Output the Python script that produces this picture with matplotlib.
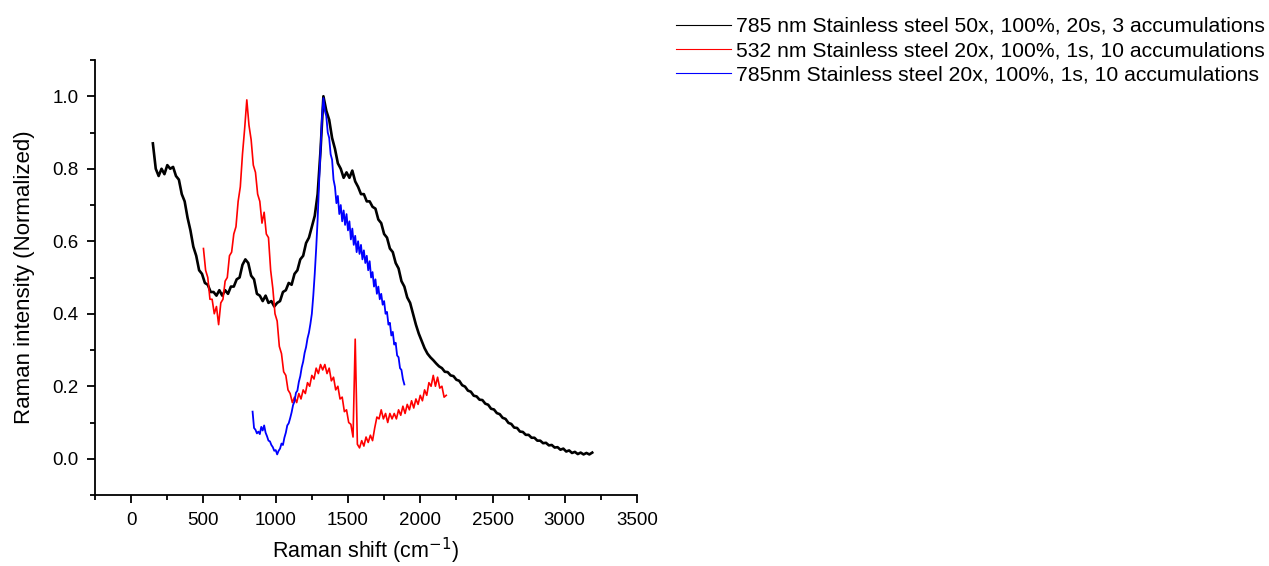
import numpy as np
import matplotlib
matplotlib.use("Agg")
import matplotlib.pyplot as plt
from matplotlib.lines import Line2D
from matplotlib.ticker import MultipleLocator

plt.rcParams['font.family'] = ['Liberation Sans', 'DejaVu Sans']

labels = ['785 nm Stainless steel 50x, 100%, 20s, 3 accumulations',
          '532 nm Stainless steel 20x, 100%, 1s, 10 accumulations',
          '785nm Stainless steel 20x, 100%, 1s, 10 accumulations']
colors = ['black', 'red', 'blue']

# 785 nm, 50x : 150 .. 3190 cm-1, every 20 cm-1
black_start, black_stop = 150, 3190
black_y = [0.87, 0.80, 0.78, 0.80, 0.785, 0.81, 0.80, 0.805, 0.78, 0.77,
           0.73, 0.71, 0.665, 0.63, 0.585, 0.56, 0.52, 0.51, 0.485, 0.48,
           0.46, 0.46, 0.45, 0.465, 0.45, 0.465, 0.455, 0.475, 0.475, 0.495,
           0.50, 0.535, 0.55, 0.54, 0.505, 0.495, 0.455, 0.45, 0.435, 0.45,
           0.43, 0.435, 0.42, 0.43, 0.435, 0.46, 0.465, 0.485, 0.48, 0.51,
           0.52, 0.55, 0.56, 0.595, 0.61, 0.64, 0.67, 0.73, 0.85, 1.0,
           0.96, 0.935, 0.885, 0.855, 0.815, 0.80, 0.775, 0.79, 0.775, 0.795,
           0.765, 0.75, 0.73, 0.73, 0.71, 0.71, 0.695, 0.69, 0.66, 0.65,
           0.62, 0.61, 0.58, 0.57, 0.54, 0.525, 0.49, 0.475, 0.445, 0.43,
           0.40, 0.37, 0.345, 0.325, 0.305, 0.29, 0.28, 0.272, 0.263, 0.255,
           0.25, 0.24, 0.239, 0.23, 0.228, 0.218, 0.215, 0.203, 0.199, 0.188,
           0.185, 0.174, 0.172, 0.163, 0.162, 0.152, 0.149, 0.138, 0.136, 0.126,
           0.123, 0.113, 0.11, 0.099, 0.096, 0.086, 0.085, 0.075, 0.074, 0.066,
           0.066, 0.058, 0.058, 0.05, 0.05, 0.043, 0.044, 0.037, 0.038, 0.031,
           0.032, 0.025, 0.028, 0.02, 0.023, 0.016, 0.019, 0.013, 0.017, 0.012,
           0.016, 0.012, 0.017]

# 532 nm, 20x : 500 .. 2180 cm-1, every 15 cm-1
red_start, red_stop = 500, 2180
red_y = [0.58, 0.52, 0.50, 0.44, 0.44, 0.40, 0.42, 0.37, 0.43, 0.44,
         0.49, 0.50, 0.56, 0.57, 0.62, 0.64, 0.71, 0.75, 0.84, 0.91,
         0.99, 0.92, 0.88, 0.81, 0.79, 0.73, 0.71, 0.65, 0.68, 0.62,
         0.61, 0.52, 0.47, 0.40, 0.38, 0.31, 0.29, 0.24, 0.23, 0.19,
         0.18, 0.155, 0.17, 0.155, 0.18, 0.165, 0.19, 0.18, 0.21, 0.20,
         0.23, 0.22, 0.25, 0.235, 0.26, 0.245, 0.26, 0.235, 0.25, 0.215,
         0.225, 0.19, 0.20, 0.165, 0.17, 0.13, 0.135, 0.10, 0.095, 0.06,
         0.33, 0.04, 0.03, 0.05, 0.035, 0.06, 0.045, 0.065, 0.05, 0.085,
         0.115, 0.11, 0.135, 0.11, 0.125, 0.10, 0.125, 0.11, 0.125, 0.11,
         0.135, 0.12, 0.145, 0.125, 0.15, 0.135, 0.16, 0.14, 0.165, 0.15,
         0.175, 0.16, 0.19, 0.175, 0.21, 0.2, 0.23, 0.2, 0.225, 0.195,
         0.2, 0.17, 0.175]

# 785 nm, 20x : 840 .. 1890 cm-1, every 10 cm-1
blue_start, blue_stop = 840, 1890
blue_y = [0.13, 0.085, 0.08, 0.07, 0.075, 0.068, 0.088, 0.078, 0.092, 0.072,
          0.062, 0.05, 0.048, 0.038, 0.032, 0.022, 0.024, 0.012, 0.022, 0.028,
          0.042, 0.038, 0.058, 0.072, 0.092, 0.098, 0.112, 0.128, 0.148, 0.158,
          0.182, 0.188, 0.212, 0.228, 0.252, 0.268, 0.292, 0.308, 0.332, 0.348,
          0.372, 0.40, 0.45, 0.51, 0.58, 0.66, 0.76, 0.85, 0.94, 0.995,
          0.96, 0.945, 0.90, 0.885, 0.84, 0.825, 0.77, 0.75, 0.705, 0.725,
          0.675, 0.70, 0.655, 0.685, 0.645, 0.675, 0.63, 0.655, 0.605, 0.635,
          0.59, 0.615, 0.57, 0.60, 0.565, 0.59, 0.55, 0.575, 0.54, 0.56,
          0.52, 0.545, 0.50, 0.515, 0.475, 0.495, 0.455, 0.475, 0.44, 0.455,
          0.425, 0.435, 0.40, 0.405, 0.37, 0.375, 0.34, 0.35, 0.315, 0.32,
          0.285, 0.28, 0.25, 0.245, 0.22, 0.205]

series = [(black_start, black_stop, black_y, 1.9),
          (red_start, red_stop, red_y, 1.2),
          (blue_start, blue_stop, blue_y, 1.3)]

fig = plt.figure(figsize=(12.69, 5.66), dpi=100)
ax = fig.add_axes([0.0749, 0.1254, 0.4271, 0.7686])

for (x0, x1, y, lw), c in zip(series, colors):
    x = np.linspace(x0, x1, len(y))
    ax.plot(x, y, color=c, lw=lw)

ax.set_xlim(-250, 3500)
ax.set_ylim(-0.1, 1.1)
ax.xaxis.set_major_locator(MultipleLocator(500))
ax.xaxis.set_minor_locator(MultipleLocator(250))
ax.yaxis.set_major_locator(MultipleLocator(0.2))
ax.yaxis.set_minor_locator(MultipleLocator(0.1))
ax.yaxis.set_major_formatter(plt.FormatStrFormatter('%.1f'))

for s in ['top', 'right']:
    ax.spines[s].set_visible(False)
for s in ['left', 'bottom']:
    ax.spines[s].set_linewidth(1.3)
ax.tick_params(which='major', direction='out', length=6, width=1.3,
               labelsize=13.5, pad=6)
ax.tick_params(which='minor', direction='out', length=3.5, width=1.3)

ax.set_xlabel('Raman shift (cm$^{-1}$)', fontsize=15.5, labelpad=5)
ax.set_ylabel('Raman intensity (Normalized)', fontsize=16, labelpad=12)

handles = [Line2D([], [], color=c, lw=0.8) for c in colors]
fig.legend(handles, labels, loc='upper left', bbox_to_anchor=(0.526, 0.985),
           frameon=False, fontsize=15.2, handlelength=2.6, handletextpad=0.25,
           labelspacing=0.24, borderaxespad=0)

fig.savefig('out.png', dpi=100)
